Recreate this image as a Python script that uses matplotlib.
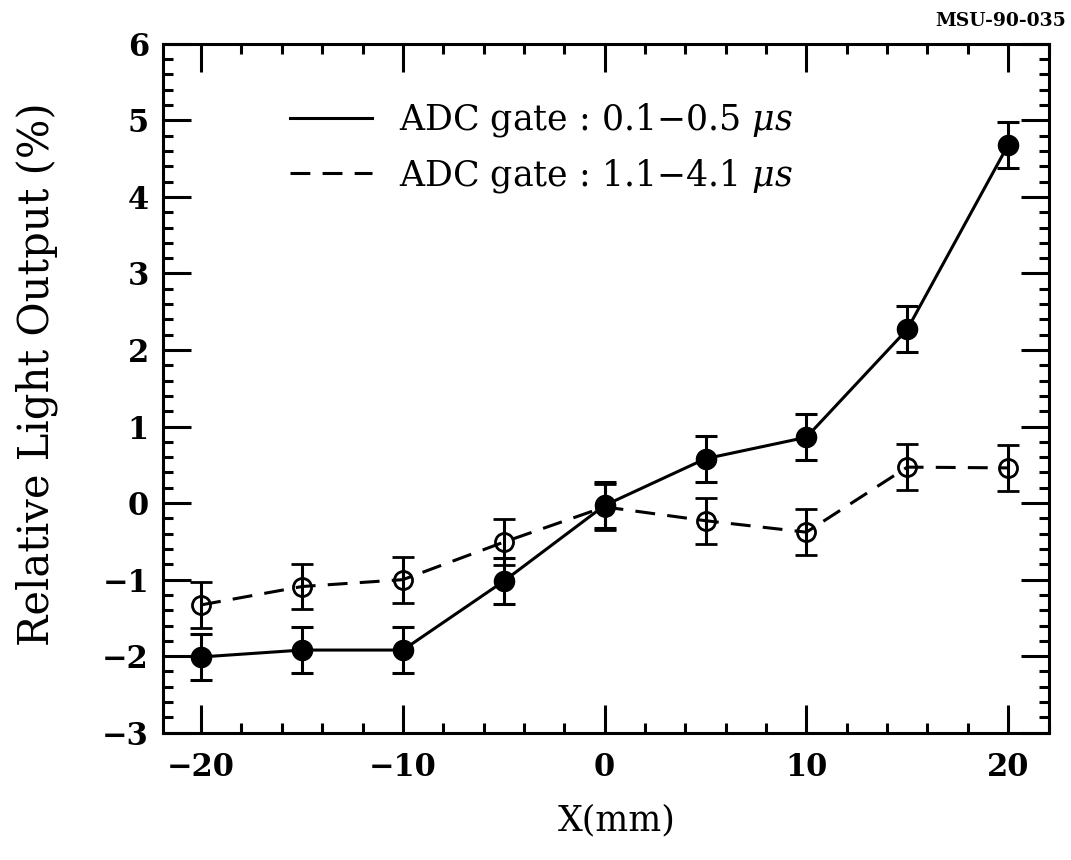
import matplotlib
matplotlib.use('Agg')
import matplotlib.pyplot as plt
from matplotlib.lines import Line2D
from matplotlib.ticker import MultipleLocator

# Position along the bar (mm)
x_mm = [-20, -15, -10, -5, 0, 5, 10, 15, 20]

# ADC gate 0.1-0.5 us (filled circles, solid line)
short_gate = [-2.01, -1.92, -1.92, -1.02, -0.03, 0.58, 0.86, 2.27, 4.68]
short_err = [0.30, 0.30, 0.30, 0.30, 0.30, 0.30, 0.30, 0.30, 0.30]

# ADC gate 1.1-4.1 us (open circles, dashed line)
long_gate = [-1.33, -1.09, -1.00, -0.51, -0.05, -0.23, -0.38, 0.47, 0.46]
long_err = [0.30, 0.30, 0.30, 0.30, 0.30, 0.30, 0.30, 0.30, 0.30]

label_short = r'ADC gate : 0.1$-$0.5 $\mu s$'
label_long = r'ADC gate : 1.1$-$4.1 $\mu s$'

plt.rcParams['font.family'] = 'DejaVu Serif'
plt.rcParams['mathtext.fontset'] = 'dejavuserif'

fig = plt.figure(figsize=(10.71, 8.6), dpi=100)
ax = fig.add_axes([0.152, 0.148, 0.827, 0.801])

lw = 2.2
dash = (0, (6.5, 4.0))
ax.errorbar(x_mm, long_gate, yerr=long_err, fmt='o', color='black',
            mfc='none', mec='black', ms=13, mew=2.0,
            ecolor='black', elinewidth=lw, capsize=8, capthick=lw,
            linestyle=dash, linewidth=lw, zorder=2)
ax.errorbar(x_mm, short_gate, yerr=short_err, fmt='o', color='black',
            ms=14.5, ecolor='black', elinewidth=lw, capsize=8, capthick=lw,
            linestyle='-', linewidth=lw, zorder=3)

ax.set_xlim(-21.9, 22.0)
ax.set_ylim(-3, 6)
ax.xaxis.set_major_locator(MultipleLocator(10))
ax.xaxis.set_minor_locator(MultipleLocator(2))
ax.yaxis.set_major_locator(MultipleLocator(1))
ax.yaxis.set_minor_locator(MultipleLocator(0.2))

for side in ax.spines.values():
    side.set_linewidth(lw)

ax.tick_params(which='both', direction='in', top=True, right=True, width=lw)
ax.tick_params(which='major', length=20)
ax.tick_params(which='minor', length=7)
ax.tick_params(axis='x', which='major', pad=14)
ax.tick_params(axis='y', which='major', pad=10)
for lab in ax.get_xticklabels() + ax.get_yticklabels():
    lab.set_fontsize(22)
    lab.set_fontweight('bold')

ax.set_xlabel('X(mm)', fontsize=25)
ax.xaxis.set_label_coords(0.513, -0.102)
ax.set_ylabel('Relative Light Output (%)', fontsize=30)
ax.yaxis.set_label_coords(-0.118, 0.52)

handles = [Line2D([], [], color='black', lw=lw),
           Line2D([], [], color='black', lw=lw, linestyle=dash)]
ax.legend(handles, [label_short, label_long], loc='upper left',
          bbox_to_anchor=(0.108, 0.962), frameon=False, fontsize=25,
          handlelength=2.36, handletextpad=0.78, labelspacing=0.5)

fig.text(0.995, 0.975, 'MSU-90-035', ha='right', va='center',
         fontsize=13.5, fontweight='bold')

fig.savefig('out.png', dpi=100)
